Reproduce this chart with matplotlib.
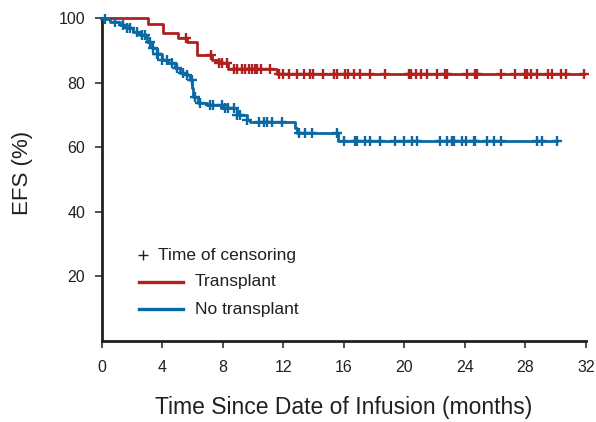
import numpy as np
import matplotlib
matplotlib.use("Agg")
import matplotlib.pyplot as plt

plt.rcParams["font.family"] = ["Liberation Sans", "DejaVu Sans"]

RED = "#b0201f"
BLUE = "#0a69a3"
INK = "#231f20"

# Kaplan-Meier event times (months) and EFS (%) after each event
transplant_times = [3.05, 4.04, 5.03, 5.65, 6.3, 7.25, 7.75, 8.35, 11.6]
transplant_efs = [98.1, 95.3, 93.8, 92.5, 88.6, 87.0, 86.0, 84.3, 82.6]
transplant_censor = [
    5.55, 7.2, 7.77, 7.93, 8.26, 8.7, 8.92, 9.25, 9.47, 9.69, 9.91, 10.13,
    10.28, 10.51, 11.13, 11.68, 12.0, 12.34, 12.89, 13.33, 13.77, 13.95,
    14.62, 15.32, 15.54, 16.09, 16.25, 16.64, 17.04, 17.75, 18.74, 20.28,
    20.44, 20.79, 21.06, 21.5, 22.17, 22.65, 22.83, 24.15, 24.64, 24.77,
    26.36, 27.28, 27.95, 28.13, 28.39, 28.74, 29.49, 29.78, 30.33, 30.66,
    31.87,
]

no_transplant_times = [
    0.09, 0.53, 1.19, 1.64, 2.07, 2.52, 2.96, 3.29, 3.62, 3.95, 4.39, 4.83,
    5.17, 5.61, 5.83, 5.96, 6.05, 6.38, 6.93, 8.03, 8.92, 9.58, 9.8, 12.78,
    12.9, 15.6,
]
no_transplant_efs = [
    99.6, 98.9, 97.8, 96.8, 95.8, 94.8, 92.7, 90.6, 89.0, 87.0, 86.0, 84.5,
    82.9, 82.4, 80.9, 78.3, 75.7, 73.7, 73.1, 72.1, 70.1, 68.5, 67.7, 66.0,
    64.4, 61.8,
]
no_transplant_censor = [
    0.2, 0.86, 1.41, 1.64, 1.85, 2.3, 2.63, 2.85, 3.18, 3.4, 3.62, 3.72,
    3.95, 4.28, 4.62, 4.95, 5.38, 5.61, 5.94, 6.16, 6.49, 7.15, 7.37, 7.93,
    8.15, 8.36, 8.7, 8.92, 9.14, 9.58, 10.35, 10.68, 10.91, 11.24, 11.9,
    13.0, 13.44, 13.89, 15.54, 15.98, 16.75, 16.87, 17.42, 17.7, 18.36,
    19.4, 19.95, 20.5, 20.84, 22.38, 22.83, 23.16, 23.26, 23.82, 24.04,
    24.59, 24.64, 25.48, 25.91, 26.36, 28.74, 29.12, 30.07,
]

x_ticks = [0, 4, 8, 12, 16, 20, 24, 28, 32]
y_ticks = [20, 40, 60, 80, 100]


def km_curve(times, efs, censor):
    """Step coordinates plus censor mark positions for one arm."""
    t = np.concatenate([[0.0], times, [max(censor)]])
    s = np.concatenate([[100.0], efs, [efs[-1]]])
    levels = np.concatenate([[100.0], efs])
    idx = np.searchsorted(times, censor, side="right")
    return t, s, np.asarray(censor), levels[idx]


fig = plt.figure(figsize=(5.96, 4.22), dpi=100)
ax = fig.add_axes([0.1711, 0.1919, 0.8121, 0.7654])

for times, efs, censor, color in [
    (no_transplant_times, no_transplant_efs, no_transplant_censor, BLUE),
    (transplant_times, transplant_efs, transplant_censor, RED),
]:
    t, s, ct, cs = km_curve(times, efs, censor)
    ax.step(t, s, where="post", color=color, lw=2.0, clip_on=False, zorder=3)
    ax.plot(ct, cs, ls="none", marker="+", ms=7, mew=1.7, color=color,
            clip_on=False, zorder=4)

ax.set_xlim(0, 32)
ax.set_ylim(0, 100)
ax.set_xticks(x_ticks)
ax.set_yticks(y_ticks)

for side in ("top", "right"):
    ax.spines[side].set_visible(False)
for side in ("left", "bottom"):
    ax.spines[side].set_linewidth(2.0)
    ax.spines[side].set_color(INK)

ax.tick_params(axis="both", direction="out", length=5, width=1.1,
               color=INK, labelcolor=INK, labelsize=11.5)
ax.tick_params(axis="x", pad=9)
ax.tick_params(axis="y", pad=7)

ax.set_ylabel("EFS (%)", fontsize=16, color=INK)
ax.yaxis.set_label_coords(-0.142, 0.52)
ax.set_xlabel("Time Since Date of Infusion (months)", fontsize=16.5,
              color=INK, labelpad=15)

# legend block drawn in axes fractions
ax.plot([0.0847], [0.266], transform=ax.transAxes, marker="+", ms=6.5,
        mew=1.0, color=INK, ls="none")
ax.text(0.1157, 0.266, "Time of censoring", transform=ax.transAxes,
        va="center", ha="left", fontsize=12.5, color=INK)
ax.plot([0.0771, 0.1669], [0.1836, 0.1836], transform=ax.transAxes,
        color=RED, lw=2.4)
ax.text(0.1921, 0.1836, "Transplant", transform=ax.transAxes,
        va="center", ha="left", fontsize=12.5, color=INK)
ax.plot([0.0771, 0.1669], [0.0991, 0.0991], transform=ax.transAxes,
        color=BLUE, lw=2.4)
ax.text(0.1921, 0.0991, "No transplant", transform=ax.transAxes,
        va="center", ha="left", fontsize=12.5, color=INK)

fig.savefig("out.png", dpi=100)
